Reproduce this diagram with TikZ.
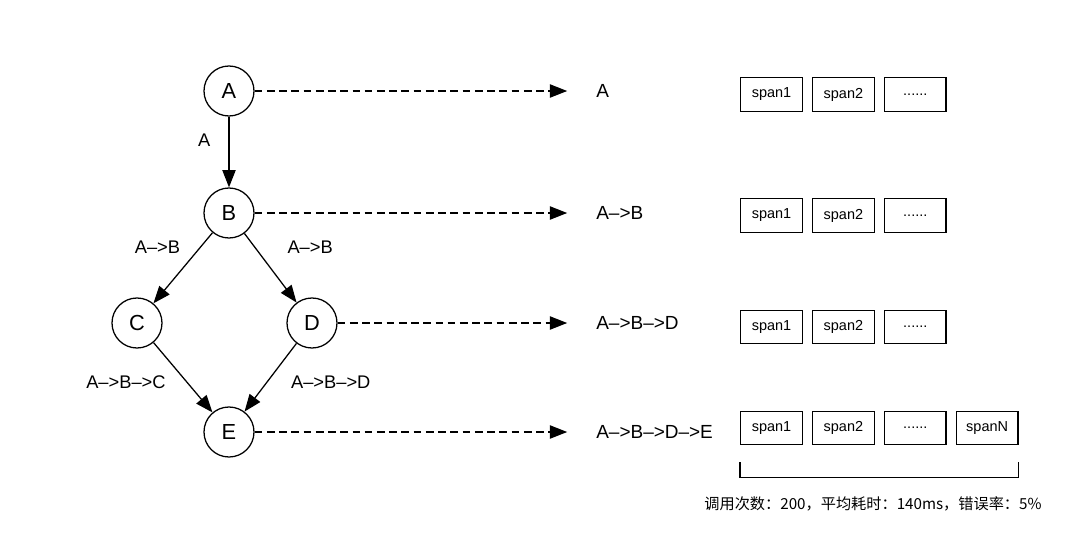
\documentclass[tikz,border=0pt]{standalone}
\usepackage{fontspec}
\setmainfont{Liberation Sans}
\newfontfamily\cjkfont{Noto Sans CJK SC}
\usetikzlibrary{positioning,arrows.meta}

\begin{document}
\begin{tikzpicture}[
    x=0.025cm, y=-0.025cm,
    state/.style={circle, draw, line width=0.9pt, minimum size=1.25cm, inner sep=0pt, font=\fontsize{15.5}{18}\selectfont},
    span/.style={rectangle, draw, line width=0.9pt, minimum width=1.54cm, minimum height=0.84cm, inner sep=0pt, font=\fontsize{10.3}{12}\selectfont},
    trail/.style={anchor=west, inner sep=0pt, font=\fontsize{13.5}{16}\selectfont},
    elabel/.style={inner sep=0pt, font=\fontsize{13}{16}\selectfont},
    arrow/.style={-{Triangle[length=0.43cm, width=0.33cm]}, line width=0.9pt},
    trace/.style={arrow, dash pattern=on 5.5pt off 3.2pt, shorten >=0.72cm}
]
    \useasboundingbox (0,0) rectangle (1080,540);

    % Call graph
    \node[state] (A) at (229,91) {A};
    \node[state] (B) at (229,213) {B};
    \node[state] (C) at (137,323) {C};
    \node[state] (D) at (312,323) {D};
    \node[state] (E) at (229,432) {E};

    % Traces
    \node[trail] (tA) at (596,91) {A};
    \node[trail] (tB) at (596,213) {A-->B};
    \node[trail] (tD) at (596,323) {A-->B-->D};
    \node[trail] (tE) at (596,432) {A-->B-->D-->E};

    % Spans
    \node[span] (s11) at (771.5,94.5) {span1};
    \node[span, right=0.225cm of s11] (s12) {span2};
    \node[span, right=0.225cm of s12] (s13) {......};
    \node[span] (s21) at (771.5,215.5) {span1};
    \node[span, right=0.225cm of s21] (s22) {span2};
    \node[span, right=0.225cm of s22] (s23) {......};
    \node[span] (s31) at (771.5,327) {span1};
    \node[span, right=0.225cm of s31] (s32) {span2};
    \node[span, right=0.225cm of s32] (s33) {......};
    \node[span] (s41) at (771.5,428) {span1};
    \node[span, right=0.225cm of s41] (s42) {span2};
    \node[span, right=0.225cm of s42] (s43) {......};
    \node[span, right=0.225cm of s43] (s44) {spanN};

    % Calls
    \draw[arrow] (A) -- node[elabel, pos=0.33, left=0.45cm] {A} (B);
    \draw[arrow] (B) -- node[elabel, pos=0.2, left=0.5cm] {A-->B} (C);
    \draw[arrow] (B) -- node[elabel, pos=0.2, right=0.8cm] {A-->B} (D);
    \draw[arrow] (C) -- node[elabel, pos=0.5, left=0.42cm, yshift=-0.11cm] {A-->B-->C} (E);
    \draw[arrow] (D) -- node[elabel, pos=0.5, right=0.5cm, yshift=-0.11cm] {A-->B-->D} (E);

    % Trace flow
    \draw[trace] (A) -- (tA.west);
    \draw[trace] (B) -- (tB.west);
    \draw[trace] (D) -- (tD.west);
    \draw[trace] (E) -- (tE.west);

    % Summary
    \draw[line width=0.9pt] ([yshift=-0.425cm]s41.south west) -- ++(0,15) -| ([yshift=-0.425cm]s44.south east);
    \node[font=\cjkfont\fontsize{10.8}{12}\selectfont] (stats) at (873,504) {调用次数：200，平均耗时：140ms，错误率：5\%};
\end{tikzpicture}
\end{document}
